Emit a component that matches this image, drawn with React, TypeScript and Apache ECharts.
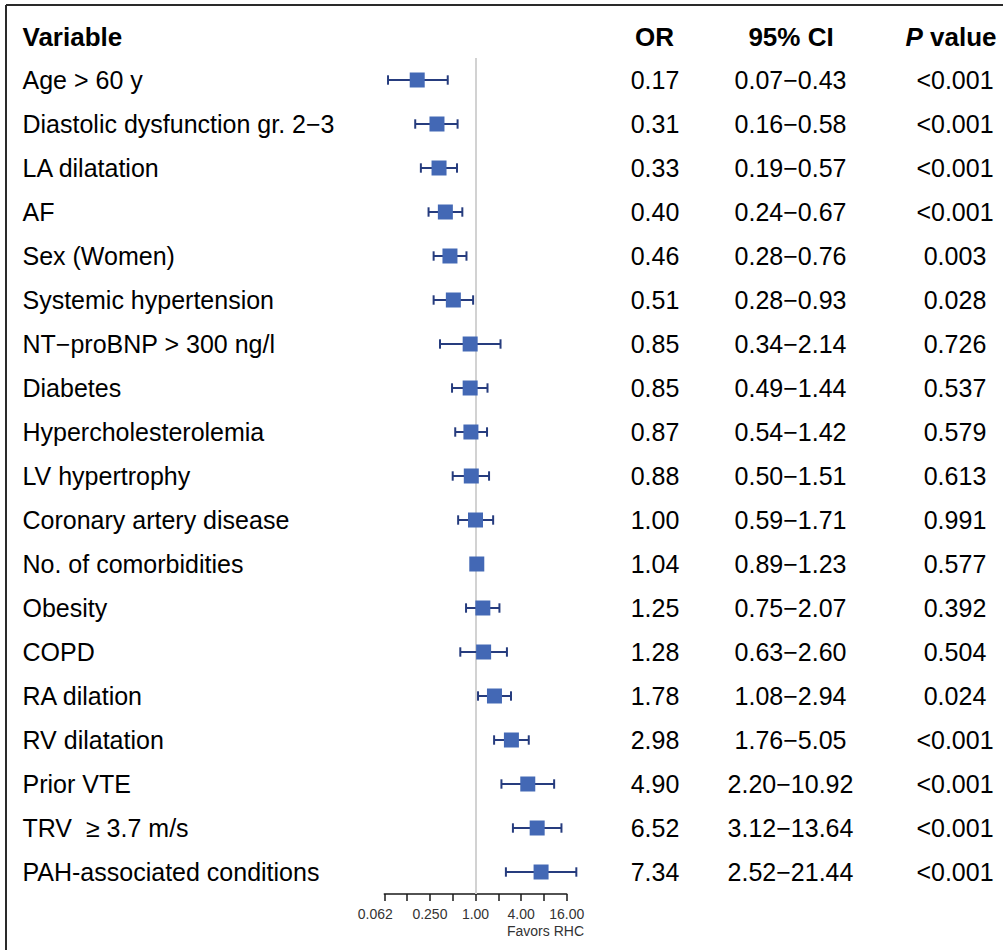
import React, { useEffect, useRef } from 'react';
import * as echarts from 'echarts';

const variables = [
  'Age > 60 y',
  'Diastolic dysfunction gr. 2−3',
  'LA dilatation',
  'AF',
  'Sex (Women)',
  'Systemic hypertension',
  'NT−proBNP > 300 ng/l',
  'Diabetes',
  'Hypercholesterolemia',
  'LV hypertrophy',
  'Coronary artery disease',
  'No. of comorbidities',
  'Obesity',
  'COPD',
  'RA dilation',
  'RV dilatation',
  'Prior VTE',
  'TRV  ≥ 3.7 m/s',
  'PAH-associated conditions',
];
const oddsRatios = [0.17, 0.31, 0.33, 0.40, 0.46, 0.51, 0.85, 0.85, 0.87, 0.88, 1.00, 1.04, 1.25, 1.28, 1.78, 2.98, 4.90, 6.52, 7.34];
const ciLower = [0.07, 0.16, 0.19, 0.24, 0.28, 0.28, 0.34, 0.49, 0.54, 0.50, 0.59, 0.89, 0.75, 0.63, 1.08, 1.76, 2.20, 3.12, 2.52];
const ciUpper = [0.43, 0.58, 0.57, 0.67, 0.76, 0.93, 2.14, 1.44, 1.42, 1.51, 1.71, 1.23, 2.07, 2.60, 2.94, 5.05, 10.92, 13.64, 21.44];
const pValues = ['<0.001', '<0.001', '<0.001', '<0.001', '0.003', '0.028', '0.726', '0.537', '0.579', '0.613', '0.991', '0.577', '0.392', '0.504', '0.024', '<0.001', '<0.001', '<0.001', '<0.001'];
const tickValues = [0.0625, 0.25, 1, 4, 16];
const tickLabels = ['0.062', '0.250', '1.00', '4.00', '16.00'];
const axisTitle = 'Favors RHC';
const headerVariable = 'Variable';
const headerOR = 'OR';
const headerCI = '95% CI';

const orText = oddsRatios.map((v) => v.toFixed(2));
const ciText = ciLower.map((l, i) => `${l.toFixed(2)}−${ciUpper[i].toFixed(2)}`);

const FONT = "'Liberation Sans', Arial, Helvetica, sans-serif";
const W = 1003;
const H = 950;
const GRID_LEFT = 384.3;
const GRID_RIGHT_X = 566.7;
const GRID_TOP = 58;
const GRID_BOTTOM_Y = 894;
const ROW_FONT = 25;
const HEAD_FONT = 26;
const TICK_FONT = 14;

export default function App() {
  const ref = useRef<HTMLDivElement>(null);

  useEffect(() => {
    document.body.style.margin = '0';
    const chart = echarts.init(ref.current!, null, { renderer: 'svg' });

    const rightAxis = (data: string[], center: number) => ({
      type: 'category',
      data,
      inverse: true,
      position: 'right',
      gridIndex: 0,
      axisLine: { show: false },
      axisTick: { show: false },
      splitLine: { show: false },
      axisLabel: {
        interval: 0,
        align: 'center',
        margin: center - GRID_RIGHT_X,
        fontSize: ROW_FONT,
        fontFamily: FONT,
        color: '#000',
      },
    });

    const headerText = (x: number, text: string, align: string, rich?: any) => ({
      type: 'text',
      x,
      y: 37,
      style: {
        text,
        fontSize: HEAD_FONT,
        fontWeight: 'bold',
        fontFamily: FONT,
        fill: '#000',
        align,
        verticalAlign: 'middle',
        rich,
      },
    });

    const option: any = {
      animation: false,
      backgroundColor: '#fff',
      grid: {
        left: GRID_LEFT,
        right: W - GRID_RIGHT_X,
        top: GRID_TOP,
        bottom: H - GRID_BOTTOM_Y,
        containLabel: false,
      },
      xAxis: {
        type: 'log',
        logBase: 2,
        min: 0.0625,
        max: 16,
        splitNumber: 8,
        splitLine: { show: false },
        minorTick: { show: false },
        axisLine: { show: true, lineStyle: { color: '#1a1a1a', width: 1.5 } },
        axisTick: { show: true, length: 7, lineStyle: { color: '#1a1a1a', width: 1.5 } },
        axisLabel: {
          margin: 13,
          fontSize: TICK_FONT,
          fontFamily: FONT,
          color: '#333',
          formatter: (v: number) => {
            const idx = tickValues.findIndex((t) => Math.abs(v - t) / t < 1e-6);
            if (idx < 0) return '';
            return idx === 0 ? `{first|${tickLabels[idx]}}` : tickLabels[idx];
          },
          rich: {
            first: {
              fontSize: TICK_FONT,
              fontFamily: FONT,
              color: '#333',
              padding: [0, 18, 0, 0],
            },
          },
        },
      },
      yAxis: [
        {
          type: 'category',
          data: variables,
          inverse: true,
          position: 'left',
          axisLine: { show: false },
          axisTick: { show: false },
          splitLine: { show: false },
          axisLabel: {
            interval: 0,
            align: 'left',
            margin: GRID_LEFT - 22.5,
            fontSize: ROW_FONT,
            fontFamily: FONT,
            color: '#000',
          },
        },
        rightAxis(orText, 655),
        rightAxis(ciText, 790.5),
        rightAxis(pValues, 955),
      ],
      series: [
        {
          type: 'custom',
          name: 'CI',
          z: 2,
          clip: false,
          xAxisIndex: 0,
          yAxisIndex: 0,
          encode: { x: [0, 1], y: 2 },
          data: ciLower.map((l, i) => [l, ciUpper[i], i]),
          renderItem: (params: any, api: any) => {
            const lo = api.value(0);
            const hi = api.value(1);
            const idx = api.value(2);
            const p0 = api.coord([lo, idx]);
            const p1 = api.coord([hi, idx]);
            const cap = 4.7;
            const style = { stroke: '#263C7E', lineWidth: 2 };
            return {
              type: 'group',
              children: [
                { type: 'line', shape: { x1: p0[0], y1: p0[1], x2: p1[0], y2: p1[1] }, style },
                { type: 'line', shape: { x1: p0[0], y1: p0[1] - cap, x2: p0[0], y2: p0[1] + cap }, style },
                { type: 'line', shape: { x1: p1[0], y1: p1[1] - cap, x2: p1[0], y2: p1[1] + cap }, style },
              ],
            };
          },
        },
        {
          type: 'scatter',
          name: 'OR',
          z: 3,
          xAxisIndex: 0,
          yAxisIndex: 0,
          symbol: 'rect',
          symbolSize: 15,
          itemStyle: { color: '#4368B5', opacity: 1 },
          data: oddsRatios.map((v, i) => [v, i]),
          markLine: {
            silent: true,
            z: 1,
            symbol: 'none',
            label: { show: false },
            lineStyle: { color: '#d2d2d2', width: 2, type: 'solid' },
            data: [{ xAxis: 1 }],
          },
        },
      ],
      graphic: [
        {
          type: 'line',
          shape: { x1: 6, y1: 5, x2: W, y2: 5 },
          style: { stroke: '#2a2a2a', lineWidth: 2 },
          silent: true,
        },
        {
          type: 'line',
          shape: { x1: 6, y1: 5, x2: 6, y2: H },
          style: { stroke: '#2a2a2a', lineWidth: 2 },
          silent: true,
        },
        headerText(22.5, headerVariable, 'left'),
        headerText(654.5, headerOR, 'center'),
        headerText(791, headerCI, 'center'),
        headerText(951, '{i|P} value', 'center', {
          i: {
            fontStyle: 'italic',
            fontWeight: 'bold',
            fontSize: HEAD_FONT,
            fontFamily: FONT,
            fill: '#000',
          },
        }),
        {
          type: 'text',
          x: 584,
          y: 931,
          style: {
            text: axisTitle,
            fontSize: TICK_FONT,
            fontFamily: FONT,
            fill: '#333',
            align: 'right',
            verticalAlign: 'middle',
          },
        },
      ],
    };

    chart.setOption(option);
    return () => chart.dispose();
  }, []);

  return (
    <div
      ref={ref}
      style={{ position: 'absolute', left: 0, top: 0, width: W, height: H, background: '#fff' }}
    />
  );
}
